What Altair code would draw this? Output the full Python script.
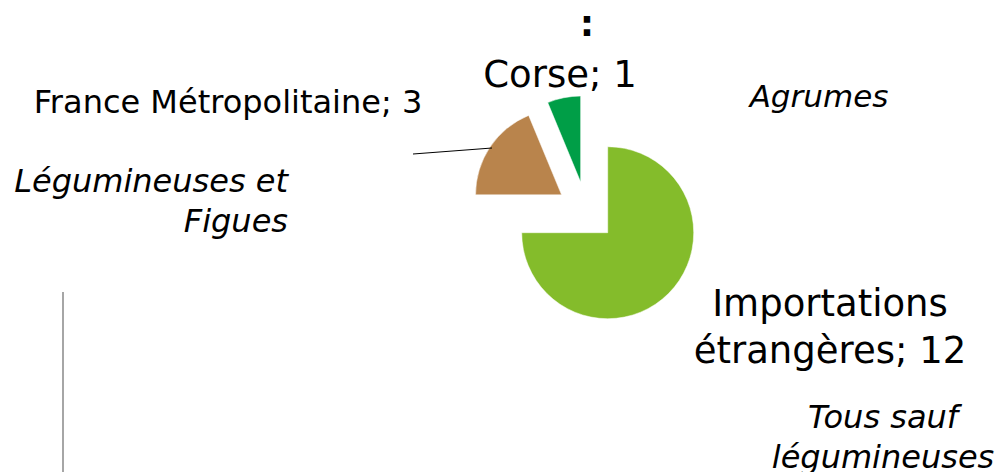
import altair as alt
import pandas as pd

# ---- data ----
categories = ["Importations étrangères", "France Métropolitaine", "Corse"]
values = [12, 3, 1]
slice_colors = ["#84BC2B", "#B9844C", "#009E47"]

# ---- layout (page pixels; the page has an 8px margin) ----
M = 8
CX, CY = 586.5 - M, 211.5 - M
RADIUS = 86
EXPLODE = 30

df = pd.DataFrame({"cat": categories, "value": values, "idx": list(range(len(categories)))})

pie = (
    alt.Chart(df)
    .transform_joinaggregate(total="sum(value)")
    .transform_window(cum="sum(value)", sort=[alt.SortField("idx")], frame=[None, 0])
    .transform_calculate(
        a0="(datum.cum - datum.value) / datum.total * 2 * PI",
        a1="datum.cum / datum.total * 2 * PI",
    )
    .transform_calculate(mid="(datum.a0 + datum.a1) / 2")
    .transform_calculate(
        px=f"{CX} + {EXPLODE} * sin(datum.mid)",
        py=f"{CY} - {EXPLODE} * cos(datum.mid)",
    )
    .mark_arc(outerRadius=RADIUS, stroke="white", strokeWidth=0.5)
    .encode(
        x=alt.X("px:Q", scale=None, axis=None),
        y=alt.Y("py:Q", scale=None, axis=None),
        theta=alt.Theta("a0:Q", scale=None),
        theta2="a1:Q",
        color=alt.Color("cat:N", scale=alt.Scale(domain=categories, range=slice_colors), legend=None),
    )
)

dummy = alt.Data(values=[{}])


def text_layer(text, x, y, size, align="center", italic=False, weight="normal", line_height=None):
    kwargs = dict(
        fontSize=size,
        align=align,
        baseline="alphabetic",
        font="DejaVu Sans",
        fontStyle="italic" if italic else "normal",
        fontWeight=weight,
        color="black",
        lineBreak="\n",
    )
    if line_height is not None:
        kwargs["lineHeight"] = line_height
    return alt.Chart(dummy).mark_text(**kwargs).encode(
        x=alt.value(x - M), y=alt.value(y - M), text=alt.value(text)
    )


lab = {c: f"{c}; {v}" for c, v in zip(categories, values)}

texts = [
    text_layer(":", 587, 36, 36, weight="bold"),
    text_layer(lab["Corse"], 560, 87, 37),
    text_layer(lab["France Métropolitaine"], 228, 113, 32),
    text_layer(lab["Importations étrangères"].replace(" ", "\n", 1), 830, 316, 37, line_height=47),
    text_layer("Agrumes", 819, 107, 31, italic=True),
    text_layer("Légumineuses et\nFigues", 288, 192, 32, align="right", italic=True, line_height=40),
    text_layer("Tous sauf\nlégumineuses", 883, 428, 32, italic=True, line_height=40),
]

leader = alt.Chart(dummy).mark_rule(color="black", strokeWidth=1).encode(
    x=alt.value(413 - M), y=alt.value(154 - M), x2=alt.value(492 - M), y2=alt.value(148 - M)
)
gray_rule = alt.Chart(dummy).mark_rule(color="#A6A6A6", strokeWidth=2).encode(
    x=alt.value(63 - M), y=alt.value(292 - M), y2=alt.value(480 - M)
)

chart = (
    alt.layer(pie, leader, gray_rule, *texts)
    .properties(width=988, height=464, padding=0, autosize="none")
    .configure_view(stroke=None)
)

chart.save("out.html", embed_options={"renderer": "svg", "actions": False})
